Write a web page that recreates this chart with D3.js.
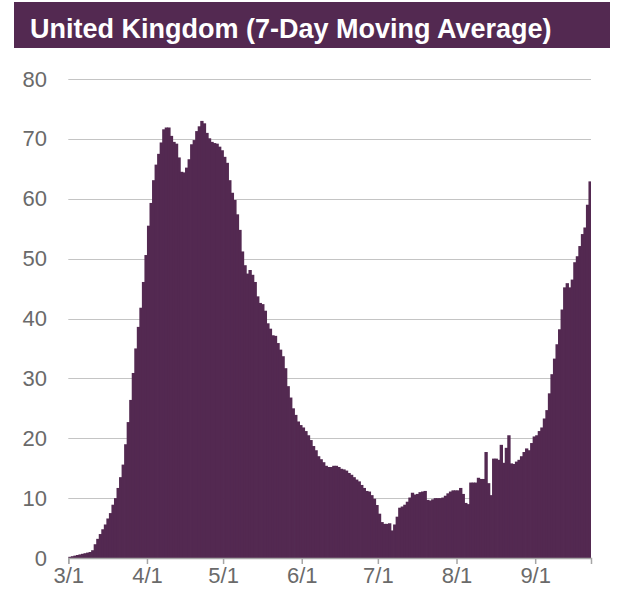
<!DOCTYPE html>
<html>
<head>
<meta charset="utf-8">
<script src="https://cdnjs.cloudflare.com/ajax/libs/d3/7.8.5/d3.min.js"></script>
<style>
    html, body { margin: 0; padding: 0; background: #ffffff; }
    svg { display: block; font-family: "Liberation Sans", Arial, sans-serif; }
</style>
</head>
<body>
<div id="chart"></div>
<script>
// UK daily value, 7-day moving average, one bar per day from 3/1
const chartTitle = "United Kingdom (7-Day Moving Average)";
const startDate = "2020-03-01";
const dailyValues = [
    0.2, 0.3, 0.4, 0.5, 0.6, 0.7, 0.8, 0.9, 1.0, 1.3,
    2.3, 3.2, 4.0, 4.8, 5.6, 6.6, 7.5, 8.9, 10.0, 11.7,
    13.5, 15.6, 19.0, 22.7, 26.4, 30.9, 35.0, 38.6, 41.8, 46.1,
    50.6, 55.5, 59.3, 63.1, 65.7, 67.5, 69.4, 71.6, 71.9, 71.9,
    70.5, 69.5, 69.2, 66.9, 64.5, 64.4, 65.2, 66.6, 69.1, 69.8,
    71.3, 72.1, 73.0, 72.6, 71.0, 70.1, 69.5, 69.3, 69.2, 68.7,
    68.1, 67.0, 66.0, 63.1, 61.0, 59.8, 57.4, 54.8, 51.2, 48.9,
    47.5, 48.1, 47.3, 46.1, 43.7, 42.6, 42.4, 41.3, 39.2, 38.3,
    37.2, 37.1, 35.9, 34.8, 33.7, 31.7, 28.7, 26.8, 25.0, 23.9,
    22.8, 22.2, 21.8, 21.2, 20.5, 19.7, 18.7, 18.0, 17.0, 16.5,
    16.0, 15.4, 15.2, 15.2, 15.4, 15.4, 15.2, 14.9, 14.8, 14.6,
    14.2, 13.9, 13.5, 13.1, 12.8, 12.2, 11.7, 11.2, 11.1, 10.5,
    9.9, 8.85, 7.4, 6.0, 5.7, 5.7, 5.8, 4.6, 5.6, 6.9,
    8.4, 8.6, 8.9, 9.4, 10.1, 10.9, 10.6, 10.7, 11.0, 11.1,
    11.2, 9.7, 9.6, 9.8, 10.0, 10.0, 10.0, 10.1, 10.4, 10.8,
    11.1, 11.3, 11.3, 11.3, 11.7, 10.7, 9.2, 9.0, 12.6, 12.6,
    12.6, 13.4, 13.2, 13.2, 17.7, 12.5, 10.5, 16.6, 16.6, 16.4,
    18.9, 15.9, 18.4, 20.5, 15.8, 15.7, 16.1, 16.4, 17.0, 17.7,
    18.3, 18.0, 19.2, 20.3, 20.5, 21.2, 21.8, 23.3, 24.7, 27.5,
    30.7, 33.3, 35.7, 38.2, 41.5, 45.2, 45.9, 45.2, 46.5, 49.4,
    50.4, 52.1, 54.1, 55.2, 59.0, 62.9
];
const yTicks = [0, 10, 20, 30, 40, 50, 60, 70, 80];
const xTickDates = ["2020-03-01", "2020-04-01", "2020-05-01", "2020-06-01", "2020-07-01", "2020-08-01", "2020-09-01"];
const xTickLabels = ["3/1", "4/1", "5/1", "6/1", "7/1", "8/1", "9/1"];

const config = {
    width: 625,
    height: 597,
    plot: { left: 68.3, right: 591, top: 79, bottom: 558 },
    barColor: "#532951",
    titleColor: "#532951",
    gridColor: "#c4c4c4",
    axisColor: "#a6a6a6",
    labelColor: "#6a6a6a",
    labelSize: 22
};

function drawChart() {
    const parse = d3.utcParse("%Y-%m-%d");
    const t0 = parse(startDate);
    const data = dailyValues.map((v, i) => ({ date: d3.utcDay.offset(t0, i), value: v }));
    const tEnd = d3.utcDay.offset(t0, dailyValues.length);

    const svg = d3.select("#chart").append("svg")
        .attr("width", config.width)
        .attr("height", config.height);

    const x = d3.scaleUtc()
        .domain([t0, tEnd])
        .range([config.plot.left, config.plot.right]);

    const y = d3.scaleLinear()
        .domain([0, 80])
        .range([config.plot.bottom, config.plot.top]);

    // title banner
    svg.append("rect")
        .attr("x", 14).attr("y", 2)
        .attr("width", 596).attr("height", 46)
        .attr("fill", config.titleColor);
    svg.append("text")
        .attr("x", 30).attr("y", 38)
        .attr("fill", "#ffffff")
        .style("font-size", "27px")
        .style("font-weight", "bold")
        .text(chartTitle);

    // horizontal grid
    svg.append("g")
        .selectAll("line")
        .data(yTicks.filter(d => d > 0))
        .enter().append("line")
        .attr("x1", config.plot.left)
        .attr("x2", config.plot.right)
        .attr("y1", d => Math.round(y(d)) + 0.5)
        .attr("y2", d => Math.round(y(d)) + 0.5)
        .attr("stroke", config.gridColor)
        .attr("stroke-width", 1);

    // bars, one per day (slight overlap hides most seams)
    svg.append("g")
        .selectAll("rect")
        .data(data)
        .enter().append("rect")
        .attr("x", d => x(d.date))
        .attr("y", d => y(d.value))
        .attr("width", (d, i) => x(d3.utcDay.offset(d.date, 1)) - x(d.date) + (i < data.length - 1 ? 0.8 : 0))
        .attr("height", d => y(0) - y(d.value))
        .attr("fill", config.barColor);

    // y axis labels
    const yAxis = svg.append("g")
        .attr("transform", "translate(47,0)")
        .call(d3.axisLeft(y).tickValues(yTicks).tickSize(0).tickPadding(0));
    yAxis.select(".domain").remove();
    yAxis.selectAll("text")
        .attr("fill", config.labelColor)
        .style("font-size", config.labelSize + "px")
        .style("font-family", "'Liberation Sans', Arial, sans-serif");

    // x axis
    const xAxis = svg.append("g")
        .attr("transform", `translate(0,${config.plot.bottom})`)
        .call(d3.axisBottom(x)
            .tickValues(xTickDates.map(parse))
            .tickFormat((d, i) => xTickLabels[i])
            .tickSizeOuter(0)
            .tickSize(6)
            .tickPadding(3));
    xAxis.select(".domain")
        .attr("stroke", config.axisColor)
        .attr("stroke-width", 1.5);
    xAxis.selectAll(".tick line")
        .attr("stroke", config.axisColor)
        .attr("stroke-width", 1.5);
    xAxis.selectAll("text")
        .attr("fill", config.labelColor)
        .style("font-size", config.labelSize + "px")
        .style("font-family", "'Liberation Sans', Arial, sans-serif");
}

drawChart();
</script>
</body>
</html>
